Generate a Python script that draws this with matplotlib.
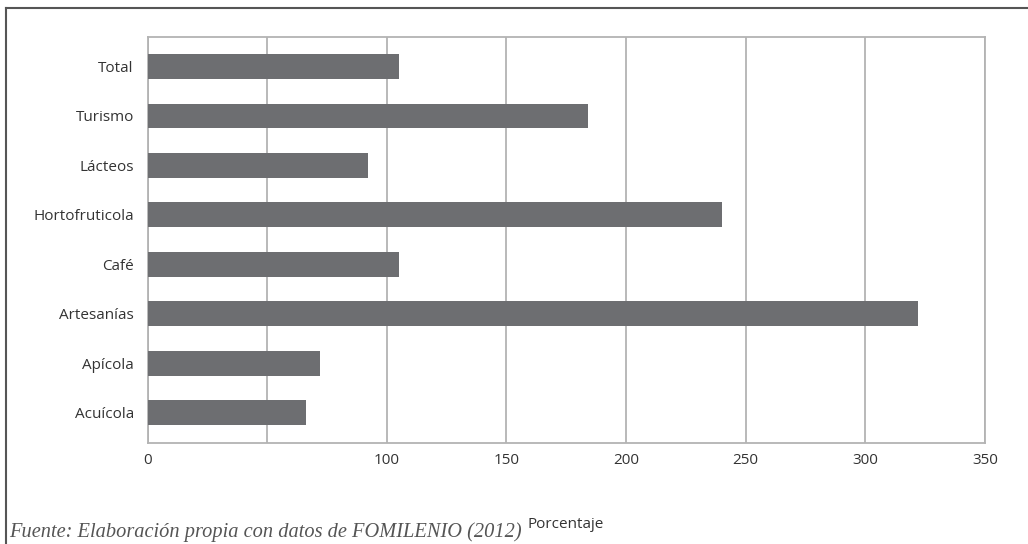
import matplotlib.pyplot as plt
import numpy as np

categorias = ["Total", "Turismo", "Lácteos", "Hortofruticola", "Café",
              "Artesanías", "Apícola", "Acuícola"]
porcentaje = [105, 184, 92, 240, 105, 322, 72, 66]
ticks_x = [0, 50, 100, 150, 200, 250, 300, 350]
etiquetas_x = ["0", "", "100", "150", "200", "250", "300", "350"]

plt.rcParams['font.family'] = ['Open Sans', 'DejaVu Sans']

fig = plt.figure(figsize=(10.28, 5.44), dpi=100)
ax = fig.add_axes([0.1437, 0.185, 0.958 - 0.1437, 0.9325 - 0.185])

y = np.arange(len(categorias))[::-1]
ax.barh(y, porcentaje, height=0.5, color="#6d6e71", zorder=3)

ax.set_xlim(0, 350)
ax.set_ylim(-0.62, 7.6)
ax.set_yticks(y)
ax.set_yticklabels(categorias, fontsize=11, color="#333333")
ax.set_xticks(ticks_x)
ax.set_xticklabels(etiquetas_x, fontsize=11, color="#333333")
ax.tick_params(length=0, pad=7)
ax.tick_params(axis='y', pad=10)
ax.grid(axis='x', color="#b3b3b3", linewidth=1.3, zorder=0)
for s in ax.spines.values():
    s.set_color("#b3b3b3")
    s.set_linewidth(1.3)

fig.text(0.5506, 0.035, "Porcentaje", ha="center", va="center",
         fontsize=11, color="#333333")

# marco exterior
fig.add_artist(plt.Line2D([0.006, 1.0], [0.985, 0.985], color="#555555", lw=1.5))
fig.add_artist(plt.Line2D([0.006, 0.006], [0.985, 0.0], color="#555555", lw=1.5))

fig.text(0.009, 0.012, "Fuente: Elaboración propia con datos de FOMILENIO (2012)",
         ha="left", va="baseline", fontsize=14.7, style="italic",
         family="Liberation Serif", color="#555555")

fig.savefig("out.png", dpi=100)
